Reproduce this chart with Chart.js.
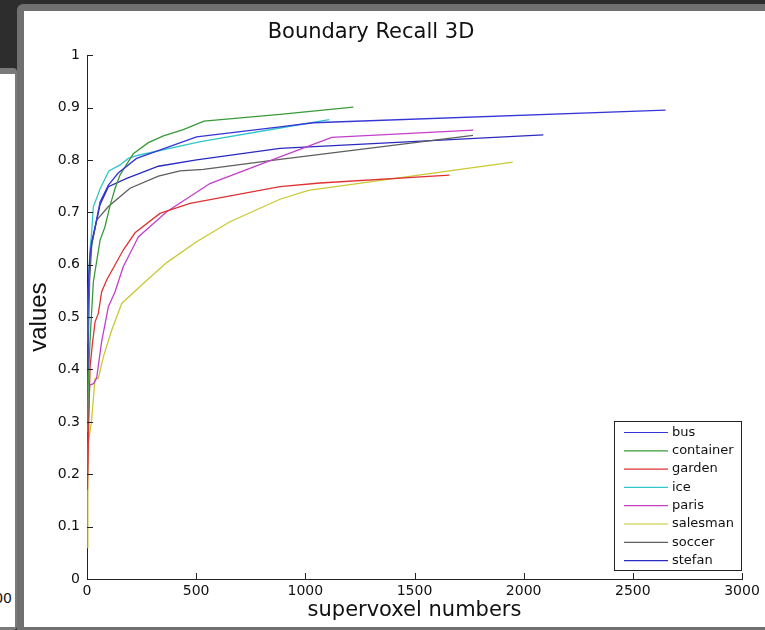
<!DOCTYPE html>
<html>
<head>
<meta charset="utf-8">
<script src="https://cdn.jsdelivr.net/npm/chart.js@4"></script>
<style>
  html, body { margin: 0; padding: 0; }
  body { width: 765px; height: 630px; background: #2d2d2d; position: relative; overflow: hidden; }
  #leftWin { position: absolute; left: -20px; top: 68px; width: 37px; height: 562px; background: #7a7a7a; border-radius: 4px; overflow: hidden; }
  #leftWin .inner { position: absolute; left: 0; top: 6px; width: 35px; height: 553px; background: #fff; }
  #leftWin .lbl { position: absolute; right: 3px; top: 516px; font: 14px "DejaVu Sans", sans-serif; color: #111; }
  #mainWin { position: absolute; left: 17px; top: 4px; width: 770px; height: 640px; background: #707070; border-radius: 6px; }
  #mainWin .inner { position: absolute; left: 7px; top: 7px; width: 770px; height: 616px; background: #fff; }
  canvas { position: absolute; left: 0; top: 0; }
</style>
</head>
<body>
<div id="leftWin"><div class="inner"><span class="lbl">3000</span></div></div>
<div id="mainWin"><div class="inner"></div></div>
<canvas id="chart" width="765" height="630"></canvas>
<script>
// values: [supervoxel number, boundary recall]
const bus = [[1, 0.4], [4, 0.5], [8, 0.58], [14, 0.62], [22, 0.645], [37, 0.672], [60, 0.72], [98, 0.752], [143, 0.775], [227, 0.803], [502, 0.844], [884, 0.863], [1037, 0.871], [2650, 0.895]];
const container = [[2, 0.28], [6, 0.38], [14, 0.456], [29, 0.567], [60, 0.647], [82, 0.672], [105, 0.712], [128, 0.745], [151, 0.771], [212, 0.812], [281, 0.833], [350, 0.846], [441, 0.858], [536, 0.874], [884, 0.887], [1220, 0.901]];
const garden = [[2, 0.17], [8, 0.3], [14, 0.405], [25, 0.45], [37, 0.491], [52, 0.507], [67, 0.548], [90, 0.571], [166, 0.628], [220, 0.661], [334, 0.698], [472, 0.717], [884, 0.749], [1067, 0.756], [1660, 0.771]];
const ice = [[2, 0.45], [8, 0.58], [14, 0.63], [21, 0.66], [29, 0.711], [44, 0.727], [60, 0.745], [100, 0.779], [150, 0.79], [189, 0.803], [235, 0.809], [520, 0.835], [884, 0.861], [1110, 0.877]];
const paris = [[2, 0.2], [6, 0.3], [12, 0.37], [30, 0.373], [44, 0.383], [67, 0.453], [98, 0.52], [128, 0.548], [166, 0.596], [205, 0.628], [235, 0.653], [365, 0.701], [563, 0.755], [884, 0.806], [1121, 0.843], [1770, 0.857]];
const salesman = [[1, 0.06], [4, 0.2], [6, 0.26], [21, 0.303], [37, 0.383], [52, 0.383], [75, 0.424], [113, 0.475], [159, 0.526], [258, 0.564], [365, 0.604], [502, 0.644], [655, 0.682], [884, 0.725], [1014, 0.742], [1950, 0.796]];
const soccer = [[2, 0.3], [6, 0.45], [12, 0.57], [22, 0.64], [44, 0.685], [98, 0.711], [197, 0.746], [327, 0.769], [426, 0.779], [533, 0.782], [884, 0.801], [1768, 0.847]];
const stefan = [[1, 0.38], [4, 0.5], [8, 0.57], [14, 0.615], [22, 0.64], [37, 0.67], [60, 0.715], [98, 0.749], [182, 0.765], [327, 0.788], [502, 0.8], [884, 0.822], [2090, 0.848]];

const seriesNames = ['bus', 'container', 'garden', 'ice', 'paris', 'salesman', 'soccer', 'stefan'];
const seriesData = [bus, container, garden, ice, paris, salesman, soccer, stefan];
const seriesColors = ['#3535d8', '#399a39', '#e03232', '#33c6c9', '#c33fcb', '#c9c934', '#5e5e5e', '#2a2ac0'];

const xTicks = [0, 500, 1000, 1500, 2000, 2500, 3000];
const yTicks = [0, 0.1, 0.2, 0.3, 0.4, 0.5, 0.6, 0.7, 0.8, 0.9, 1];

const FONT = '"DejaVu Sans", sans-serif';

// matlab style ticks pointing into the plot
const innerTicks = {
  id: 'innerTicks',
  afterDraw(chart) {
    const ctx = chart.ctx;
    const a = chart.chartArea;
    ctx.save();
    ctx.strokeStyle = '#222';
    ctx.lineWidth = 1;
    ctx.beginPath();
    chart.scales.x.ticks.forEach(t => {
      const px = Math.round(chart.scales.x.getPixelForValue(t.value)) + 0.5;
      ctx.moveTo(px, a.bottom);
      ctx.lineTo(px, a.bottom - 6);
    });
    chart.scales.y.ticks.forEach(t => {
      const py = Math.round(chart.scales.y.getPixelForValue(t.value)) + 0.5;
      ctx.moveTo(a.left, py);
      ctx.lineTo(a.left + 6, py);
    });
    ctx.stroke();
    ctx.restore();
  }
};

// boxed legend in the lower right corner
const boxLegend = {
  id: 'boxLegend',
  afterDraw(chart) {
    const ctx = chart.ctx;
    const a = chart.chartArea;
    const w = 127, h = 149;
    const left = a.right - 1 - w, top = a.bottom - 9 - h;
    ctx.save();
    ctx.fillStyle = '#fff';
    ctx.fillRect(left, top, w, h);
    ctx.strokeStyle = '#222';
    ctx.lineWidth = 1;
    ctx.strokeRect(Math.round(left) + 0.5, Math.round(top) + 0.5, w, h);
    ctx.font = '13px ' + FONT;
    ctx.textBaseline = 'middle';
    ctx.fillStyle = '#111';
    chart.data.datasets.forEach((ds, i) => {
      const y = top + 11.5 + i * 18.3;
      ctx.strokeStyle = ds.borderColor;
      ctx.lineWidth = 1.2;
      ctx.beginPath();
      ctx.moveTo(left + 10, y);
      ctx.lineTo(left + 54, y);
      ctx.stroke();
      ctx.fillText(ds.label, left + 58, y);
    });
    ctx.restore();
  }
};

new Chart(document.getElementById('chart'), {
  type: 'line',
  data: {
    datasets: seriesNames.map((name, i) => ({
      label: name,
      data: seriesData[i].map(p => ({ x: p[0], y: p[1] })),
      borderColor: seriesColors[i],
      borderWidth: 1.3,
      pointRadius: 0,
      tension: 0,
      fill: false
    }))
  },
  options: {
    responsive: false,
    animation: false,
    events: [],
    layout: { padding: { left: 0, right: 23, top: 0, bottom: 0 } },
    plugins: {
      legend: { display: false },
      tooltip: { enabled: false },
      title: {
        display: true,
        text: 'Boundary Recall 3D',
        color: '#111',
        font: { family: FONT, size: 21, weight: 'normal' },
        padding: { top: 20, bottom: 10 }
      }
    },
    scales: {
      x: {
        type: 'linear',
        min: 0,
        max: 3000,
        afterBuildTicks: s => { s.ticks = xTicks.map(v => ({ value: v })); },
        afterFit: s => { s.height = 51; },
        grid: { drawOnChartArea: false, drawTicks: false },
        border: { display: true, color: '#222', width: 1 },
        ticks: { color: '#111', padding: 4, font: { family: FONT, size: 14 }, maxRotation: 0, callback: v => String(v) },
        title: {
          display: true,
          text: 'supervoxel numbers',
          color: '#111',
          font: { family: FONT, size: 21 },
          padding: { top: 0, bottom: 7 }
        }
      },
      y: {
        type: 'linear',
        min: 0,
        max: 1,
        afterBuildTicks: s => { s.ticks = yTicks.map(v => ({ value: v })); },
        afterFit: s => { s.width = 87; },
        grid: { drawOnChartArea: false, drawTicks: false },
        border: { display: true, color: '#222', width: 1 },
        ticks: { color: '#111', padding: 7, font: { family: FONT, size: 14 }, callback: v => String(Math.round(v * 10) / 10) },
        title: {
          display: true,
          text: 'values',
          color: '#111',
          font: { family: '"Liberation Sans", sans-serif', size: 24 },
          padding: { top: 25, bottom: 0 }
        }
      }
    }
  },
  plugins: [innerTicks, boxLegend]
});
</script>
</body>
</html>
